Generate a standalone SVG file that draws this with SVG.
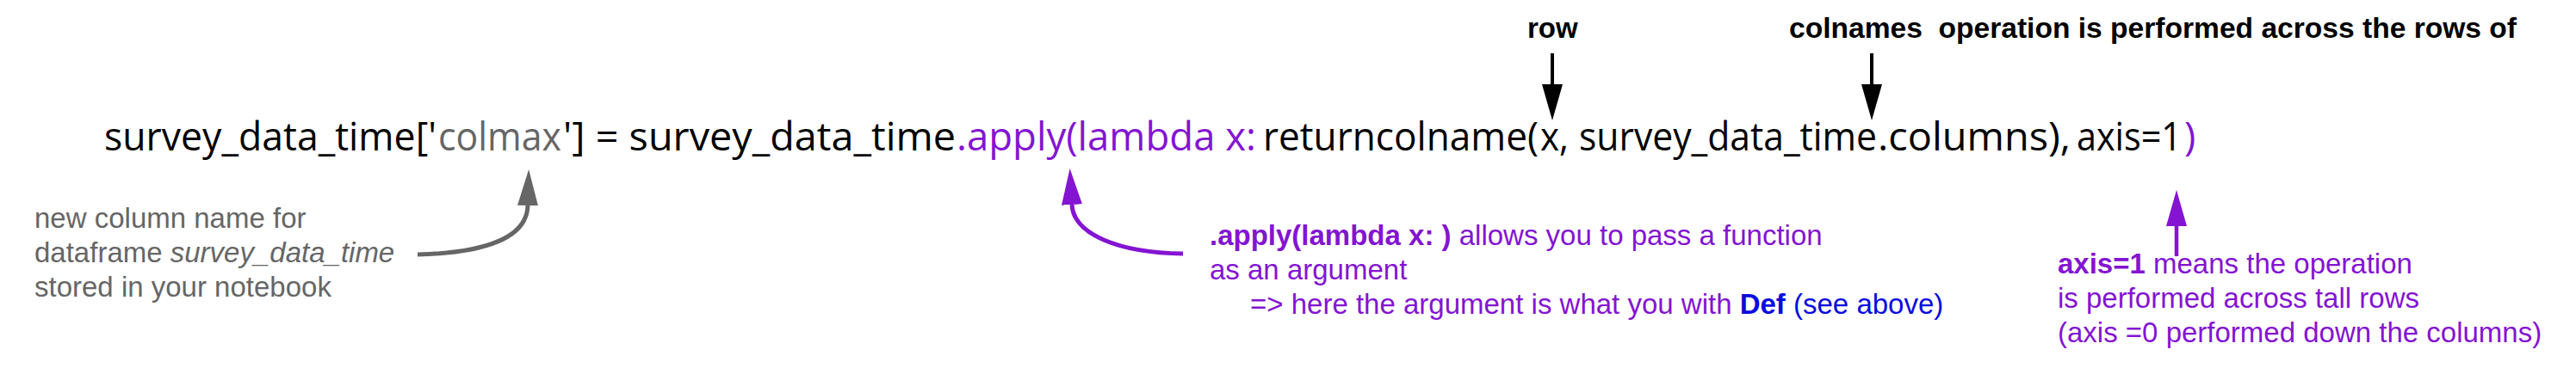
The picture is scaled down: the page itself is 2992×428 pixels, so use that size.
<svg xmlns="http://www.w3.org/2000/svg" width="2992" height="428" viewBox="0 0 2992 428">
<style>
.code{font-family:"Open Sans","Noto Sans",sans-serif;font-size:45px;fill:#000}
.grey{fill:#666666}
.purple{fill:#8414d2}
.note{font-family:"Liberation Sans",Arial,sans-serif;font-size:33px}
.top{font-family:"Liberation Sans",Arial,sans-serif;font-size:33px;font-weight:bold;fill:#000;white-space:pre}
.b{font-weight:bold}
.blue{fill:#0a0ae0}
.conn{fill:none}
</style>
<defs>
<marker id="hk" markerUnits="userSpaceOnUse" viewBox="0 -12 42 24" markerWidth="42" markerHeight="24" refX="0" refY="0" orient="auto"><path d="M0,-12L42,0L0,12z" fill="#000"/></marker>
<marker id="hg" markerUnits="userSpaceOnUse" viewBox="0 -12 42 24" markerWidth="42" markerHeight="24" refX="0" refY="0" orient="auto"><path d="M0,-12L42,0L0,12z" fill="#666666"/></marker>
<marker id="hp" markerUnits="userSpaceOnUse" viewBox="0 -12 42 24" markerWidth="42" markerHeight="24" refX="0" refY="0" orient="auto"><path d="M0,-12L42,0L0,12z" fill="#8414d2"/></marker>
</defs>
<rect width="2992" height="428" fill="#ffffff"/>

<g id="code-line" class="code">
<text x="121" y="175" textLength="386" lengthAdjust="spacingAndGlyphs">survey_data_time['</text>
<text x="509" y="175" class="grey" textLength="143" lengthAdjust="spacingAndGlyphs">colmax</text>
<text x="654" y="175" textLength="456" lengthAdjust="spacingAndGlyphs">'] = survey_data_time</text>
<text x="1111" y="175" class="purple" textLength="348" lengthAdjust="spacingAndGlyphs">.apply(lambda x:</text>
<text x="1467" y="175" textLength="320" lengthAdjust="spacingAndGlyphs">returncolname(</text>
<text x="1789" y="175" textLength="33" lengthAdjust="spacingAndGlyphs">x,</text>
<text x="1834" y="175" textLength="346" lengthAdjust="spacingAndGlyphs">survey_data_time</text>
<text x="2181" y="175" textLength="224" lengthAdjust="spacingAndGlyphs">.columns),</text>
<text x="2412" y="175" textLength="122" lengthAdjust="spacingAndGlyphs">axis=1</text>
<text x="2537" y="175" class="purple">)</text>
</g>

<g id="label-row" class="top"><text x="1774" y="44">row</text></g>
<g id="label-colnames" class="top"><text x="2078" y="44" xml:space="preserve" textLength="845" lengthAdjust="spacingAndGlyphs">colnames  operation is performed across the rows of</text></g>

<g id="note-colmax" class="note grey">
<text x="40" y="265">new column name for</text>
<text x="40" y="305">dataframe <tspan font-style="italic">survey_data_time</tspan></text>
<text x="40" y="345">stored in your notebook</text>
</g>

<g id="note-apply" class="note purple">
<text x="1405" y="285"><tspan class="b">.apply(lambda x: )</tspan> allows you to pass a function</text>
<text x="1405" y="325">as an argument</text>
<text x="1452" y="365">=&gt; here the argument is what you with <tspan class="b blue">Def</tspan><tspan class="blue"> (see above)</tspan></text>
</g>

<g id="note-axis" class="note purple">
<text x="2390" y="318"><tspan class="b">axis=1</tspan> means the operation</text>
<text x="2390" y="358">is performed across tall rows</text>
<text x="2390" y="398">(axis =0 performed down the columns)</text>
</g>

<g id="connectors" class="conn">
<line x1="1803" y1="62" x2="1803" y2="98" stroke="#000" stroke-width="4" marker-end="url(#hk)"/>
<line x1="2174" y1="62" x2="2174" y2="98" stroke="#000" stroke-width="4" marker-end="url(#hk)"/>
<path d="M485,296 C565,294 612,276 613,239" stroke="#666666" stroke-width="5" marker-end="url(#hg)"/>
<path d="M1374,295 C1300,294 1247,273 1245,238" stroke="#8414d2" stroke-width="5" marker-end="url(#hp)"/>
<line x1="2528" y1="298" x2="2528" y2="263" stroke="#8414d2" stroke-width="4.5" marker-end="url(#hp)"/>
</g>
</svg>
